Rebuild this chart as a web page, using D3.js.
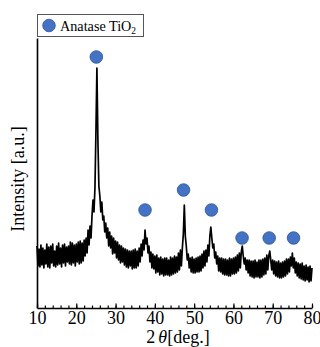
<!DOCTYPE html>
<html>
<head>
<meta charset="utf-8">
<script src="https://cdn.jsdelivr.net/npm/d3@7"></script>
<style>
  html, body { margin: 0; padding: 0; background: #fff; }
  svg { display: block; }
  text { font-family: "Liberation Serif", "Times New Roman", serif; fill: #000; }
</style>
</head>
<body>
<svg id="chart" width="320" height="347"></svg>
<script>
// ---- data ----
const angleStart = 10;
const angleStep = 0.25;
// intensity (a.u.) every 0.25 deg from 10 to 80 deg
const intensity = [
  62,42,59,41,  63,43,60,40,  58,44,64,41,  61,40,62,45,  64,42,57,41,   // 10-14
  62,43,65,44,  60,41,63,45,  64,42,61,46,  62,44,66,43,  65,45,63,42,   // 15-19
  64,46,66,44,  67,45,65,47,  68,52,70,55,  78,63,82,70,  92,108,96,120, // 20-24
  176,240,168,122, 112,96,106,88, 92,76,85,70, 80,62,76,60, 72,54,70,55, // 25-29
  67,50,66,48,  63,45,62,46,  60,43,59,41,  58,40,57,42,  57,39,58,40,   // 30-34
  59,40,57,42,  60,46,64,52,  68,58,78,64,  70,55,62,46,  56,40,54,39,   // 35-39
  52,35,53,36,  50,33,51,34,  49,32,50,33,  50,33,48,32,  51,33,50,34,   // 40-44
  52,35,51,36,  55,38,58,42,  60,74,103,72, 62,48,54,40,  50,36,51,35,   // 45-49
  49,35,50,36,  51,36,52,37,  54,40,57,42,  58,46,63,52,  72,81,70,60,   // 50-54
  64,50,56,44,  52,37,50,36,  50,34,49,33,  49,33,48,32,  50,32,49,34,   // 55-59
  50,34,51,35,  53,37,55,40,  56,62,52,44,  50,38,48,35,  48,32,47,31,   // 60-64
  47,30,48,31,  46,31,48,30,  48,31,49,33,  50,34,53,38,  52,57,48,38,   // 65-69
  48,34,47,32,  46,31,47,30,  45,30,46,31,  47,32,49,34,  49,36,51,42,   // 70-74
  55,40,50,35,  46,32,45,30,  44,29,45,28,  42,27,43,28,  41,26,42,27,   // 75-79
  40                                                                      // 80
];
// anatase peak markers
const markerAngles = [25.1, 37.5, 47.3, 54.4, 62.2, 69.1, 75.3];
const markerLevels = [251, 98, 118, 98, 70, 70, 70];
// axis ticks
const majorTicks = [10, 20, 30, 40, 50, 60, 70, 80];
const minorTicks = d3.range(10, 81, 2);
const legendLabel = "Anatase TiO";

// ---- chart ----
const svg = d3.select("#chart");
const x = d3.scaleLinear().domain([10, 80]).range([37, 312]);
const y = d3.scaleLinear().domain([0, 270]).range([308, 38]);

const points = intensity.map((v, i) => [angleStart + i * angleStep, v]);

// trace
svg.append("path")
  .datum(points)
  .attr("fill", "none")
  .attr("stroke", "#000")
  .attr("stroke-width", 1.7)
  .attr("stroke-linejoin", "round")
  .attr("d", d3.line().x(d => x(d[0])).y(d => y(d[1])));

// markers
svg.append("g").selectAll("circle")
  .data(markerAngles.map((a, i) => [a, markerLevels[i]]))
  .join("circle")
  .attr("cx", d => x(d[0]))
  .attr("cy", d => y(d[1]))
  .attr("r", 6.3)
  .attr("fill", "#4472C4")
  .attr("stroke", "#2F5597")
  .attr("stroke-width", 0.8);

// x axis: minor ticks
svg.append("g")
  .attr("transform", "translate(0,308)")
  .call(d3.axisBottom(x).tickValues(minorTicks).tickSize(-2.5).tickSizeOuter(0).tickFormat(""))
  .call(g => g.select(".domain").remove())
  .call(g => g.selectAll("line").attr("stroke", "#000").attr("stroke-width", 1.2));

// x axis: major ticks + labels
svg.append("g")
  .attr("transform", "translate(0,308)")
  .call(d3.axisBottom(x).tickValues(majorTicks).tickSize(-4.5).tickSizeOuter(0).tickPadding(3).tickFormat(d3.format("d")))
  .call(g => g.select(".domain").attr("stroke", "#000").attr("stroke-width", 1.6))
  .call(g => g.selectAll("line").attr("stroke", "#000").attr("stroke-width", 1.2))
  .call(g => g.selectAll("text")
    .attr("font-family", "Liberation Serif, Times New Roman, serif")
    .attr("font-size", 18).attr("fill", "#000"));

// y axis (line only)
svg.append("g")
  .attr("transform", "translate(37,0)")
  .call(d3.axisLeft(y).tickValues([]).tickSizeOuter(0))
  .call(g => g.select(".domain").attr("stroke", "#000").attr("stroke-width", 1.6));

// axis titles
const xt = svg.append("text")
  .attr("x", 178).attr("y", 343)
  .attr("text-anchor", "middle")
  .attr("font-size", 18);
xt.append("tspan").text("2");
xt.append("tspan").attr("font-style", "italic").attr("dx", 3).text("θ");
xt.append("tspan").text("[deg.]");

svg.append("text")
  .attr("transform", "translate(24,179) rotate(-90)")
  .attr("text-anchor", "middle")
  .attr("font-size", 18)
  .text("Intensity [a.u.]");

// legend
const lg = svg.append("g");
lg.append("rect")
  .attr("x", 37.5).attr("y", 14.5).attr("width", 106).attr("height", 22)
  .attr("fill", "#fff").attr("stroke", "#555").attr("stroke-width", 1);
lg.append("circle")
  .attr("cx", 49).attr("cy", 25.5).attr("r", 6.3)
  .attr("fill", "#4472C4").attr("stroke", "#2F5597").attr("stroke-width", 0.8);
const lt = lg.append("text")
  .attr("x", 60).attr("y", 30.5)
  .attr("font-size", 14.2);
lt.append("tspan").text(legendLabel);
lt.append("tspan").attr("font-size", 9.5).attr("dy", 3).text("2");
</script>
</body>
</html>
